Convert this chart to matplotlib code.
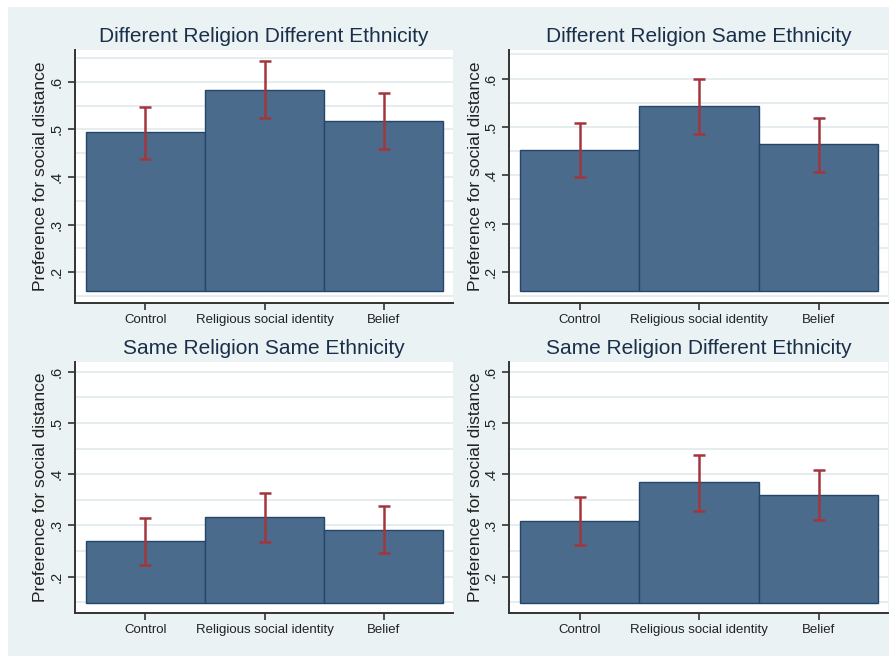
import numpy as np
import matplotlib.pyplot as plt
import matplotlib.patches as mpatches

plt.rcParams['font.family'] = ['Liberation Sans', 'DejaVu Sans']

categories = ['Control', 'Religious social identity', 'Belief']
titles = ['Different Religion Different Ethnicity', 'Different Religion Same Ethnicity',
          'Same Religion Same Ethnicity', 'Same Religion Different Ethnicity']

# bar means and confidence interval bounds per panel
means = [[0.494, 0.583, 0.517],
         [0.452, 0.543, 0.465],
         [0.269, 0.316, 0.292],
         [0.308, 0.384, 0.360]]
upper = [[0.548, 0.643, 0.576],
         [0.509, 0.600, 0.519],
         [0.314, 0.364, 0.338],
         [0.355, 0.438, 0.408]]
lower = [[0.438, 0.525, 0.459],
         [0.397, 0.486, 0.407],
         [0.222, 0.268, 0.246],
         [0.261, 0.329, 0.311]]
bases = [0.16, 0.161, 0.149, 0.149]
ylims = [(0.135, 0.667), (0.136, 0.659), (0.129, 0.619), (0.129, 0.619)]
yticks = [0.2, 0.3, 0.4, 0.5, 0.6]
ytick_labels = ['.2', '.3', '.4', '.5', '.6']

bg = '#eaf2f3'
bar_color = '#4a6b8c'
edge_color = '#23466b'
err_color = '#a3363d'

fig = plt.figure(figsize=(8.89, 6.56), dpi=100, facecolor='white')
fig.patches.append(mpatches.Rectangle((8 / 889, 0), 1, 1 - 7 / 656, transform=fig.transFigure,
                                      facecolor=bg, edgecolor='none', zorder=-10))

positions = [[75, 50, 453, 303], [509, 50, 888, 303],
             [75, 362, 453, 613], [509, 362, 888, 613]]

x = np.arange(1, 4)
for i in range(4):
    l, t, r, b = positions[i]
    ax = fig.add_axes([l / 889, 1 - b / 656, (r - l) / 889, (b - t) / 656])
    ax.set_facecolor('white')
    ax.set_xlim(0.41, 3.58)
    ax.set_ylim(*ylims[i])
    for g in np.arange(0.15, 0.66, 0.05):
        if ylims[i][0] < g < ylims[i][1]:
            ax.axhline(g, color='#e3ecee', lw=1.3, zorder=0)
    vals = np.array(means[i])
    ax.bar(x, vals - bases[i], bottom=bases[i], width=1.0, color=bar_color,
           edgecolor=edge_color, linewidth=1.0, zorder=2)
    yerr = [vals - np.array(lower[i]), np.array(upper[i]) - vals]
    ax.errorbar(x, vals, yerr=yerr, fmt='none', ecolor=err_color, elinewidth=1.8,
                capsize=4.2, capthick=1.8, zorder=3)
    ax.set_xticks(x)
    ax.set_xticklabels(categories, fontsize=9.5, color='#222222')
    ax.set_yticks(yticks)
    ax.set_yticklabels(ytick_labels, fontsize=10.5, rotation=90, va='center', color='#222222')
    ax.tick_params(axis='both', length=5, width=1.2, color='#333333', direction='out', pad=3)
    ax.set_ylabel('Preference for social distance', fontsize=12.5, color='#222222', labelpad=1)
    ax.set_title(titles[i], fontsize=15, color='#1a2f4a', pad=6)
    for s in ['top', 'right']:
        ax.spines[s].set_visible(False)
    for s in ['left', 'bottom']:
        ax.spines[s].set_color('#333333')
        ax.spines[s].set_linewidth(1.4)

fig.savefig('out.png', dpi=100, facecolor=fig.get_facecolor())
